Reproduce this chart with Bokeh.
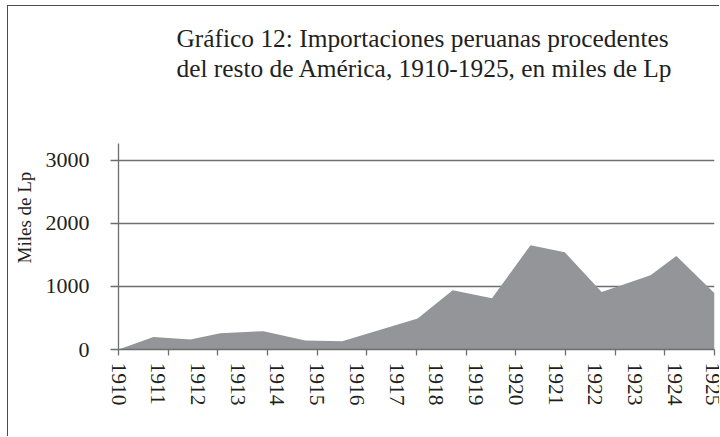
from bokeh.plotting import figure
from bokeh.models import FixedTicker, Title
from bokeh.embed import file_html
from bokeh.resources import INLINE

# ---- data ----
years = [1910, 1911, 1912, 1913, 1914, 1915, 1916, 1917, 1918, 1919, 1920,
         1921, 1922, 1923, 1924, 1925]
year_labels = [str(y) for y in years]
# vertices of the area outline (time in years, value in miles de Lp)
x_time = [1910.0, 1910.88, 1911.81, 1912.56, 1913.65, 1914.70, 1915.63,
          1917.53, 1918.41, 1919.40, 1920.37, 1921.23, 1922.16, 1923.39,
          1924.04, 1925.0]
importaciones = [0, 200, 159, 259, 291, 143, 132, 493, 938, 811, 1653, 1542,
                 911, 1176, 1483, 890]
y_ticks = [0, 1000, 2000, 3000]
x_tick_marks = [1910, 1911.25, 1912.5, 1913.75, 1915, 1916.25, 1917.5,
                1918.75, 1920, 1921.25, 1922.5, 1923.75, 1925]
title_lines = ["Gráfico 12: Importaciones peruanas procedentes",
               "del resto de América, 1910-1925, en miles de Lp"]

FONT = "Liberation Serif"
TXT = "#231f20"
LINE = "#6d6e71"
AREA = "#939598"

p = figure(width=712, height=431, output_backend="svg", toolbar_location=None,
           x_range=(1910, 1925), y_range=(0, 3264),
           min_border_left=110, min_border_right=6, min_border_bottom=88,
           min_border_top=137)
p.outline_line_color = None
p.styles = {"margin-left": "7px", "margin-top": "5px",
            "border-left": "1px solid #4d4d4f", "border-top": "1px solid #4d4d4f"}

p.varea(x=x_time, y1=0, y2=importaciones, fill_color=AREA, fill_alpha=1.0)

# x axis
p.xaxis.ticker = FixedTicker(ticks=years, minor_ticks=x_tick_marks)
p.xaxis.major_label_overrides = {y: l for y, l in zip(years, year_labels)}
p.xaxis.major_label_orientation = "vertical"
p.xaxis.major_tick_out = 0
p.xaxis.major_tick_in = 0
p.xaxis.minor_tick_out = 6
p.xaxis.minor_tick_in = 0
p.xaxis.minor_tick_line_color = LINE
p.xaxis.minor_tick_line_width = 1.3
p.xaxis.axis_line_color = LINE
p.xaxis.axis_line_width = 1.3
p.xaxis.major_label_standoff = 7
p.xaxis.major_label_text_font = FONT
p.xaxis.major_label_text_font_size = "21.5px"
p.xaxis.major_label_text_color = TXT

# y axis
p.yaxis.ticker = FixedTicker(ticks=y_ticks)
p.yaxis.major_tick_out = 8
p.yaxis.major_tick_in = 0
p.yaxis.minor_tick_line_color = None
p.yaxis.major_tick_line_color = LINE
p.yaxis.major_tick_line_width = 1.3
p.yaxis.axis_line_color = LINE
p.yaxis.axis_line_width = 1.3
p.yaxis.major_label_standoff = 21
p.yaxis.major_label_text_font = FONT
p.yaxis.major_label_text_font_size = "22px"
p.yaxis.major_label_text_color = TXT

p.xgrid.grid_line_color = None
p.ygrid.ticker = FixedTicker(ticks=y_ticks)
p.ygrid.grid_line_color = LINE
p.ygrid.grid_line_width = 1.3

# y axis label as a left-side title, shifted up from the frame bottom
ylab = Title(text="Miles de Lp", align="left", offset=86, vertical_align="top",
             text_font=FONT, text_font_size="19px", text_font_style="normal",
             text_color=TXT, standoff=11)
p.add_layout(ylab, "left")

# spacer between the plot frame and the two title lines
spacer = Title(text=" ", text_font=FONT, text_font_size="1px", standoff=59)
p.add_layout(spacer, "above")
# title, two lines (the later one is placed further from the frame)
t2 = Title(text=title_lines[1], align="left", offset=58,
           text_font=FONT, text_font_size="25.4px", text_font_style="normal",
           text_color=TXT, standoff=0)
t1 = Title(text=title_lines[0], align="left", offset=58,
           text_font=FONT, text_font_size="25.4px", text_font_style="normal",
           text_color=TXT, standoff=0)
p.add_layout(t2, "above")
p.add_layout(t1, "above")

open("out.html", "w").write(file_html(p, INLINE))
